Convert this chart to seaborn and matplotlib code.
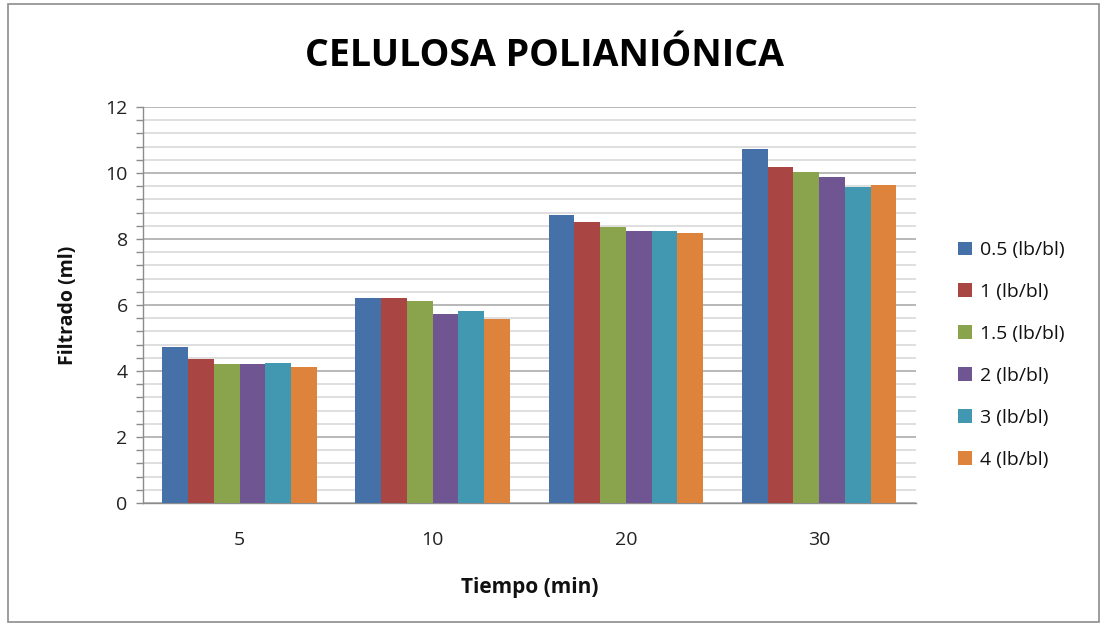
import numpy as np
import pandas as pd
import matplotlib
matplotlib.use("Agg")
import matplotlib.pyplot as plt
import seaborn as sns
from matplotlib.patches import Rectangle

# ---- data ----
tiempos = ["5", "10", "20", "30"]
series = ["0.5 (lb/bl)", "1 (lb/bl)", "1.5 (lb/bl)", "2 (lb/bl)", "3 (lb/bl)", "4 (lb/bl)"]
v_05 = [4.73, 6.22, 8.72, 10.73]
v_1 = [4.36, 6.22, 8.51, 10.17]
v_15 = [4.22, 6.12, 8.35, 10.04]
v_2 = [4.22, 5.73, 8.24, 9.87]
v_3 = [4.23, 5.83, 8.24, 9.58]
v_4 = [4.13, 5.58, 8.17, 9.64]
colors = ["#4571A8", "#A94644", "#8AA34D", "#6F5592", "#4198B0", "#DE833C"]

rows = []
for name, vals in zip(series, [v_05, v_1, v_15, v_2, v_3, v_4]):
    for t, v in zip(tiempos, vals):
        rows.append({"Tiempo": t, "Serie": name, "Filtrado": v})
df = pd.DataFrame(rows)

sns.set_theme(style="white")
plt.rcParams["font.family"] = ["Open Sans", "DejaVu Sans"]
plt.rcParams["text.color"] = "#111111"
plt.rcParams["axes.labelcolor"] = "#111111"

fig = plt.figure(figsize=(11.05, 6.24), dpi=100)
ax = fig.add_axes([0.1294, 0.1939, 0.8286 - 0.1294, 0.8285 - 0.1939])

sns.barplot(data=df, x="Tiempo", y="Filtrado", hue="Serie", order=tiempos,
            hue_order=series, palette=colors, width=0.8, saturation=1,
            edgecolor="none", linewidth=0, ax=ax, zorder=3)

ax.set_ylim(0, 12)
ax.set_xlim(-0.5, 3.5)
ax.set_yticks(np.arange(0, 13, 2))
ax.set_yticks(np.arange(0, 12.01, 0.4), minor=True)
ax.grid(axis="y", which="major", color="#ABABAB", linewidth=1.2, zorder=0)
ax.grid(axis="y", which="minor", color="#D9D9D9", linewidth=1.2, zorder=0)
ax.set_axisbelow(True)
ax.tick_params(axis="y", which="both", left=True, length=5, width=1, color="#8C8C8C",
               direction="out", pad=6, labelsize=14, labelcolor="#222222")
ax.tick_params(axis="x", which="both", bottom=False, length=0, pad=20,
               labelsize=14, labelcolor="#222222")
for s in ["top", "right"]:
    ax.spines[s].set_visible(False)
for s in ["left", "bottom"]:
    ax.spines[s].set_color("#8C8C8C")
    ax.spines[s].set_linewidth(1)

ax.set_xlabel("Tiempo (min)", fontsize=15, fontweight="bold", labelpad=20)
ax.set_ylabel("Filtrado (ml)", fontsize=14, fontweight="bold", labelpad=20)

fig.suptitle("CELULOSA POLIANIÓNICA", fontsize=27, fontweight="bold", color="black",
             y=0.94, x=0.493, family=["Open Sans", "DejaVu Sans"])

handles, labels = ax.get_legend_handles_labels()
ax.legend(handles, labels, loc="center left", bbox_to_anchor=(1.045, 0.374),
          frameon=False, fontsize=14, handlelength=0.7, handleheight=0.7,
          handletextpad=0.4, labelspacing=1.23, borderaxespad=0)

fig.patches.append(Rectangle((0.007, 0.004), 0.988, 0.99, transform=fig.transFigure,
                             fill=False, edgecolor="#8C8C8C", linewidth=1.2))

fig.savefig("out.png", dpi=100)
